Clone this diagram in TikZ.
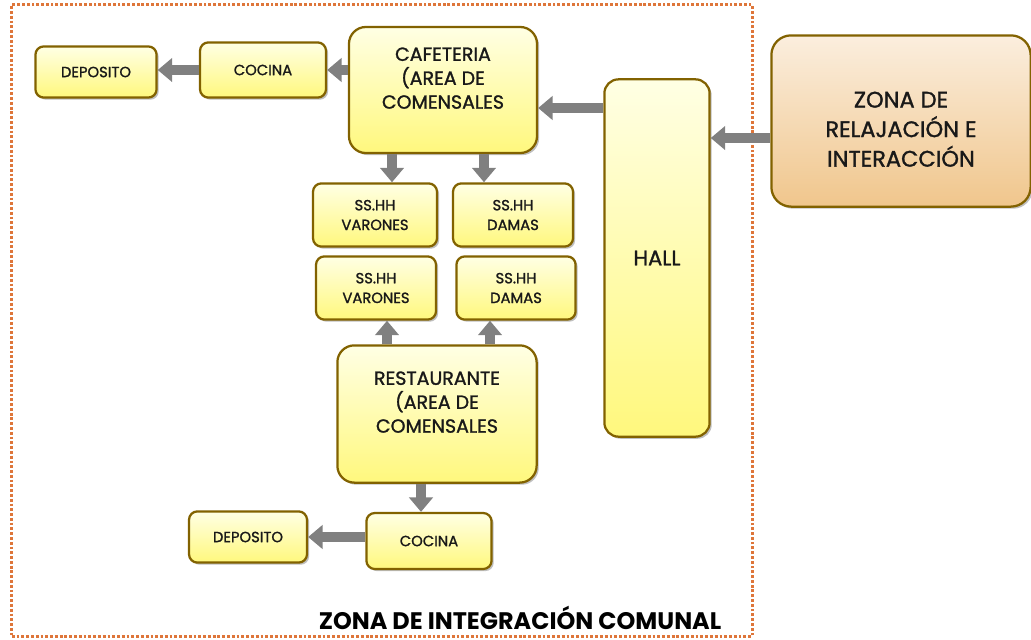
\documentclass[tikz,border=0pt]{standalone}
\usepackage{fontspec}
\setmainfont{Poppins}
\newfontfamily\boxfont{Poppins}[FakeBold=1.3]
\usetikzlibrary{arrows.meta,shadows}

\definecolor{boxedge}{RGB}{130,98,0}
\definecolor{boxtop}{RGB}{255,255,228}
\definecolor{boxbot}{RGB}{255,248,125}
\definecolor{zonetop}{RGB}{251,238,222}
\definecolor{zonebot}{RGB}{240,198,140}
\definecolor{frameorange}{RGB}{222,118,58}
\definecolor{flowgray}{RGB}{128,128,128}

\begin{document}
\begin{tikzpicture}[x=0.025cm,y=-0.025cm,
area/.style={draw=boxedge,line width=1.6pt,rounded corners=6pt,top color=boxtop,bottom color=boxbot,drop shadow={shadow xshift=1.5pt,shadow yshift=-1.5pt,opacity=0.5},align=center,text=black!90,inner sep=2pt},
small/.style={area,font=\boxfont\fontsize{10.5}{14}\selectfont},
big/.style={area,rounded corners=12pt,font=\boxfont\fontsize{13.5}{17}\selectfont},
frame/.style={draw=frameorange,line width=2pt,dash pattern=on 2pt off 1.4pt,inner sep=0pt},
title/.style={font=\bfseries\fontsize{17}{20}\selectfont,text=black},
flow/.style={draw=flowgray,line width=0.26cm,-{Triangle[width=0.58cm,length=0.36cm]}}
]
\useasboundingbox[fill=white] (0,0) rectangle (1031,639);
\node[frame,minimum width=18.5cm,minimum height=15.78cm] (integ) at (382,320.5) {};
\node[title] (titulo) at (520,618) {ZONA DE INTEGRACIÓN COMUNAL};
\node[small,minimum width=3.03cm,minimum height=1.28cm] (dep1) at (96,72) {DEPOSITO};
\node[small,minimum width=3.15cm,minimum height=1.38cm] (coc1) at (263,70) {COCINA};
\node[big,minimum width=4.7cm,minimum height=3.15cm] (cafe) at (443,90) {CAFETERIA\\(AREA DE\\COMENSALES\\\mbox{}};
\node[small,minimum width=3.1cm,minimum height=1.58cm] (var1) at (375,215) {SS.HH\\VARONES};
\node[small,minimum width=3.0cm,minimum height=1.58cm] (dam1) at (513,215) {SS.HH\\DAMAS};
\node[small,minimum width=3.0cm,minimum height=1.58cm] (var2) at (376,288) {SS.HH\\VARONES};
\node[small,minimum width=2.98cm,minimum height=1.58cm] (dam2) at (516,288) {SS.HH\\DAMAS};
\node[big,minimum width=4.98cm,minimum height=3.43cm] (rest) at (437,414) {RESTAURANTE\\(AREA DE\\COMENSALES\\\mbox{}};
\node[small,minimum width=3.13cm,minimum height=1.4cm] (coc2) at (429,541) {COCINA};
\node[small,minimum width=2.95cm,minimum height=1.28cm] (dep2) at (248,537) {DEPOSITO};
\node[area,rounded corners=10pt,font=\boxfont\fontsize{15}{17}\selectfont,minimum width=2.63cm,minimum height=8.93cm] (hall) at (657,258) {HALL};
\node[area,rounded corners=14pt,top color=zonetop,bottom color=zonebot,font=\boxfont\fontsize{16}{21}\selectfont,text height=65pt,minimum width=6.48cm,minimum height=4.28cm] (zona) at (901,121) {ZONA DE\\RELAJACIÓN E\\INTERACCIÓN};
\draw[flow] (cafe.west |- coc1.east) -- (coc1.east);
\draw[flow] (coc1.west) -- (coc1.west -| dep1.east);
\draw[flow] ([yshift=-4.5mm]cafe.east -| hall.west) -- ([yshift=-4.5mm]cafe.east);
\draw[flow] ([yshift=-4.25mm]zona.west) -- ([yshift=-4.25mm]zona.west -| hall.east);
\draw[flow] ([xshift=4.25mm]var1.north |- cafe.south) -- ([xshift=4.25mm]var1.north);
\draw[flow] ([xshift=-7.25mm]dam1.north |- cafe.south) -- ([xshift=-7.25mm]dam1.north);
\draw[flow] ([xshift=2.75mm]var2.south |- rest.north) -- ([xshift=2.75mm]var2.south);
\draw[flow] ([xshift=-6.5mm]dam2.south |- rest.north) -- ([xshift=-6.5mm]dam2.south);
\draw[flow] ([xshift=-2mm]coc2.north |- rest.south) -- ([xshift=-2mm]coc2.north);
\draw[flow] (coc2.west |- dep2.east) -- (dep2.east);
\end{tikzpicture}
\end{document}
